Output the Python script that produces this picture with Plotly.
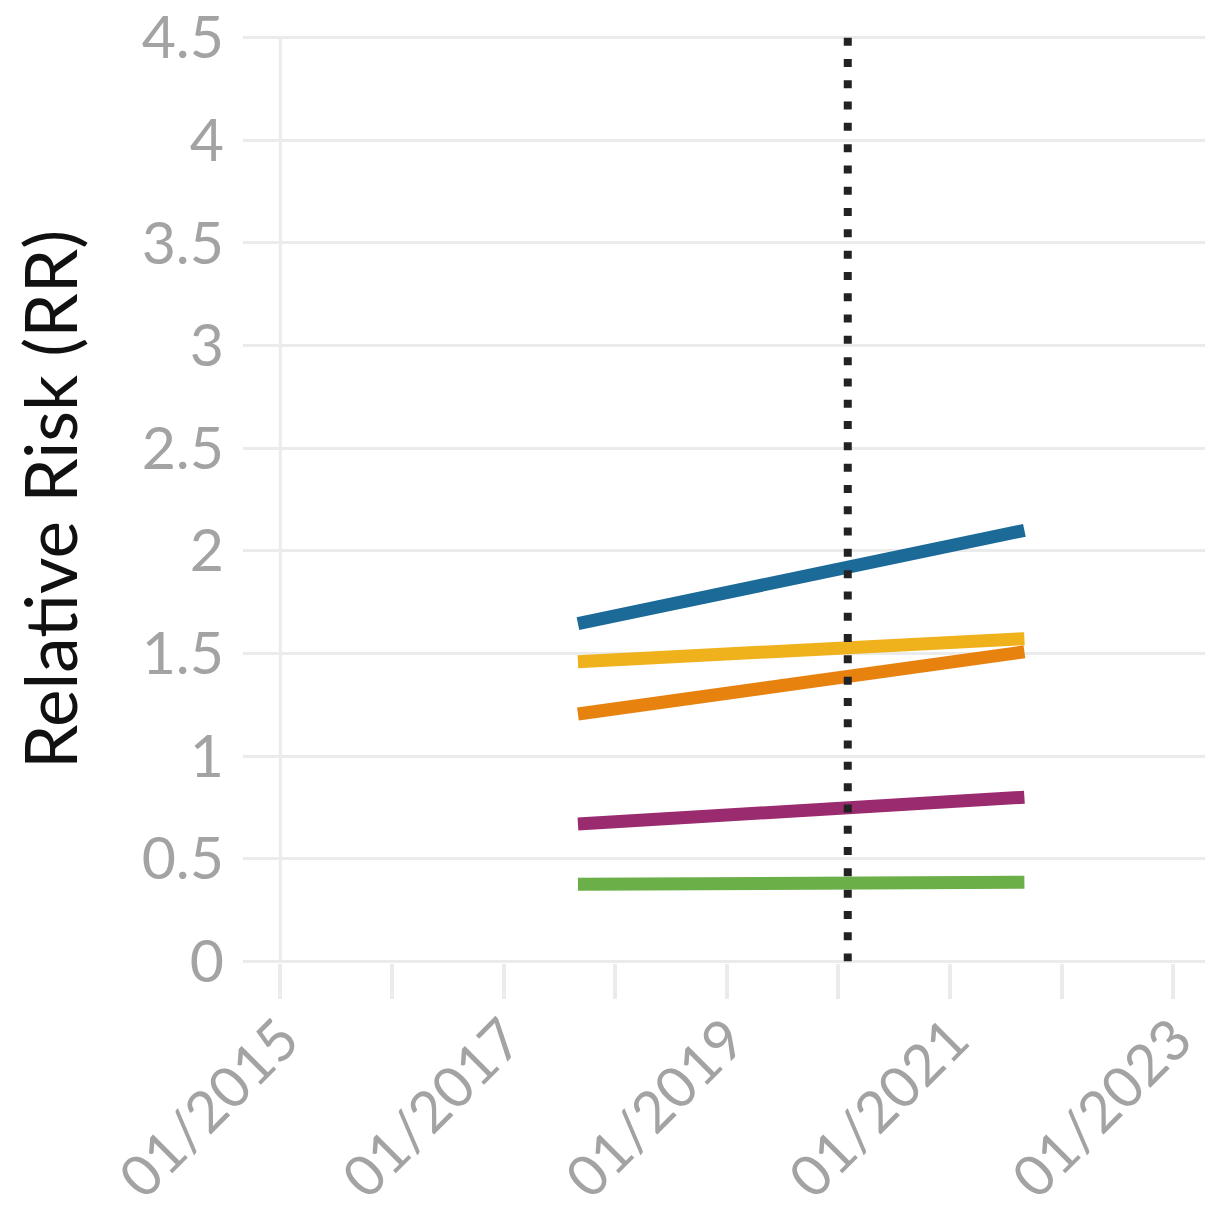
import plotly.graph_objects as go

# ---- data ----
dates = ["2017-09-01", "2020-02-01", "2021-09-01"]
blue_rr = [1.645, 1.925, 2.10]
yellow_rr = [1.46, 1.535, 1.572]
orange_rr = [1.205, 1.385, 1.508]
purple_rr = [0.669, 0.752, 0.80]
green_rr = [0.376, 0.380, 0.385]
event_date = "2020-02-01"

x_tickvals = ["2015-01-01", "2016-01-01", "2017-01-01", "2018-01-01", "2019-01-01",
              "2020-01-01", "2021-01-01", "2022-01-01", "2023-01-01"]
x_ticktext = ["01/2015", "", "01/2017", "", "01/2019", "", "01/2021", "", "01/2023"]
y_tickvals = [0, 0.5, 1, 1.5, 2, 2.5, 3, 3.5, 4, 4.5]
y_ticktext = ["0", "0.5", "1", "1.5", "2", "2.5", "3", "3.5", "4", "4.5"]

series = [
    (blue_rr, "#1b6a98"),
    (yellow_rr, "#f0b21c"),
    (orange_rr, "#e8820f"),
    (purple_rr, "#9b2b6f"),
    (green_rr, "#6aaf48"),
]

FONT = "Lato"
GRID = "#ebebeb"
TICKC = "#a3a3a3"

fig = go.Figure()

for vals, col in series:
    fig.add_trace(go.Scatter(x=dates, y=vals, mode="lines",
                             line=dict(color=col, width=13), showlegend=False,
                             hoverinfo="skip"))

# event line (drawn top to bottom so the dot pattern starts at the top)
fig.add_trace(go.Scatter(x=[event_date, event_date], y=[4.5, 0], mode="lines",
                         line=dict(color="#222222", width=8, dash="8px,13.3px"),
                         showlegend=False, hoverinfo="skip"))

# vertical axis line at 2015
fig.add_shape(type="line", x0=x_tickvals[0], x1=x_tickvals[0], y0=0, y1=4.5,
              xref="x", yref="y", line=dict(color=GRID, width=3), layer="below")

fig.update_layout(
    width=1208, height=1229,
    margin=dict(l=243, r=3, t=36, b=266),
    paper_bgcolor="white", plot_bgcolor="white",
    font=dict(family=FONT, color=TICKC),
    xaxis=dict(
        type="date",
        range=["2014-09-01", "2023-04-15"],
        tickvals=x_tickvals, ticktext=x_ticktext,
        tickangle=-45,
        ticks="outside", ticklen=35, tickwidth=4, tickcolor=GRID,
        showgrid=False, zeroline=False, showline=False,
        ticklabelshift=2, ticklabelstandoff=-16,
        ticklabeloverflow="allow", automargin=False,
        tickfont=dict(family=FONT, size=57, color=TICKC),
    ),
    yaxis=dict(
        range=[-0.008, 4.508],
        tickvals=y_tickvals, ticktext=y_ticktext,
        showgrid=True, gridcolor=GRID, gridwidth=3,
        zeroline=False, showline=False, ticks="",
        ticklabelstandoff=18,
        ticklabeloverflow="allow", automargin=False,
        tickfont=dict(family=FONT, size=59, color=TICKC),
        title=dict(text="Relative Risk (RR)", standoff=40,
                   font=dict(family=FONT, size=71, color="#111111")),
    ),
)

fig.write_html("out.html", config={"displayModeBar": False},
               post_script="document.body.style.margin='0';")
